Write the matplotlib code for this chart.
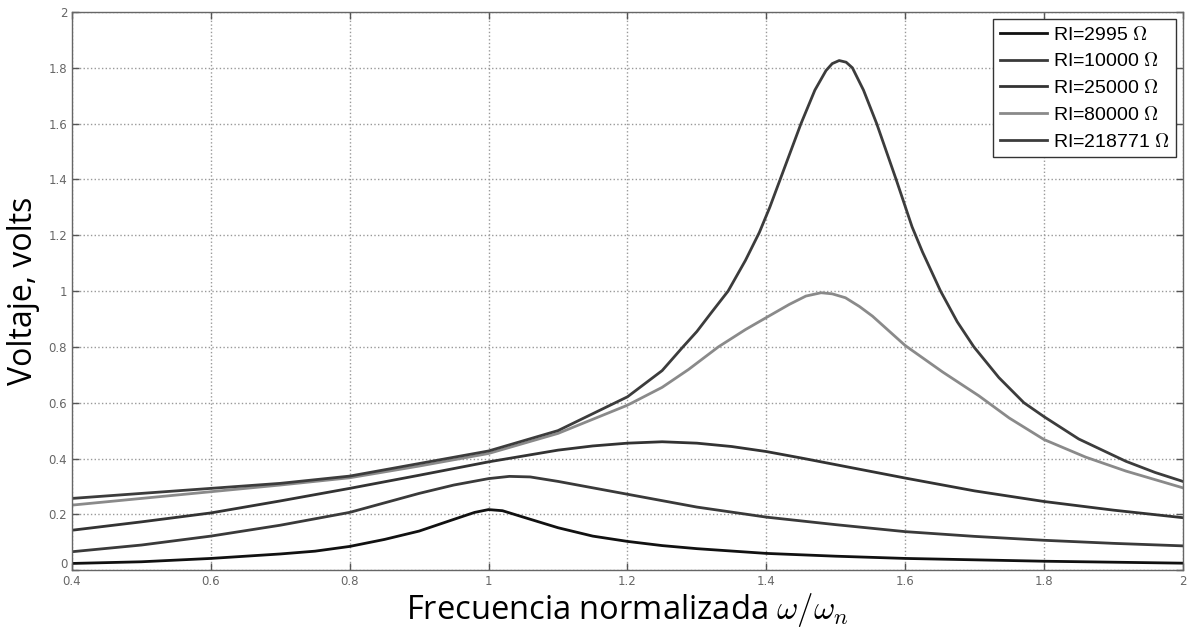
import matplotlib
matplotlib.use('Agg')
import matplotlib.pyplot as plt
import matplotlib.transforms as mtransforms

plt.rcParams['mathtext.fontset'] = 'cm'

# Curva RI=2995 ohm
x_2995 = [0.4, 0.5, 0.6, 0.7, 0.75, 0.8, 0.85, 0.9, 0.95, 0.98, 1.0, 1.02, 1.05, 1.1, 1.15, 1.2, 1.25,
          1.3, 1.4, 1.5, 1.6, 1.8, 2.0]
v_2995 = [0.024, 0.03, 0.042, 0.058, 0.068, 0.085, 0.11, 0.14, 0.182, 0.207, 0.217, 0.213, 0.19, 0.152,
          0.122, 0.103, 0.088, 0.077, 0.06, 0.05, 0.042, 0.032, 0.025]

# Curva RI=10000 ohm
x_10000 = [0.4, 0.5, 0.6, 0.7, 0.8, 0.9, 0.95, 1.0, 1.03, 1.06, 1.1, 1.15, 1.2, 1.3, 1.4, 1.5, 1.6,
           1.7, 1.8, 1.9, 2.0]
v_10000 = [0.066, 0.09, 0.122, 0.161, 0.207, 0.275, 0.305, 0.328, 0.336, 0.334, 0.318, 0.295, 0.272,
           0.226, 0.19, 0.163, 0.138, 0.121, 0.107, 0.096, 0.087]

# Curva RI=25000 ohm
x_25000 = [0.4, 0.5, 0.6, 0.7, 0.8, 0.9, 1.0, 1.1, 1.15, 1.2, 1.25, 1.3, 1.35, 1.4, 1.45, 1.5, 1.55,
           1.6, 1.7, 1.8, 1.9, 2.0]
v_25000 = [0.143, 0.173, 0.205, 0.248, 0.293, 0.34, 0.388, 0.43, 0.445, 0.455, 0.46, 0.455, 0.443,
           0.425, 0.402, 0.378, 0.354, 0.33, 0.284, 0.246, 0.215, 0.188]

# Curva RI=80000 ohm
x_80000 = [0.4, 0.5, 0.6, 0.7, 0.8, 0.9, 1.0, 1.1, 1.2, 1.25, 1.288, 1.331, 1.37, 1.4, 1.433, 1.457,
           1.479, 1.495, 1.514, 1.534, 1.553, 1.6, 1.654, 1.706, 1.75, 1.8, 1.86, 1.918, 2.0]
v_80000 = [0.233, 0.257, 0.281, 0.305, 0.331, 0.373, 0.418, 0.49, 0.591, 0.655, 0.719, 0.8, 0.862,
           0.905, 0.952, 0.982, 0.994, 0.99, 0.976, 0.945, 0.91, 0.805, 0.71, 0.625, 0.545, 0.468,
           0.405, 0.355, 0.295]

# Curva RI=218771 ohm
x_218771 = [0.4, 0.5, 0.6, 0.7, 0.8, 0.9, 1.0, 1.1, 1.2, 1.25, 1.28, 1.3, 1.32, 1.345, 1.37, 1.39,
            1.405, 1.42, 1.435, 1.45, 1.47, 1.486, 1.495, 1.505, 1.515, 1.524, 1.54, 1.559, 1.587,
            1.61, 1.625, 1.651, 1.675, 1.699, 1.735, 1.771, 1.8, 1.85, 1.918, 1.96, 2.0]
v_218771 = [0.257, 0.275, 0.293, 0.311, 0.337, 0.382, 0.427, 0.5, 0.621, 0.715, 0.8, 0.855, 0.92,
            1.0, 1.11, 1.21, 1.3, 1.4, 1.5, 1.6, 1.72, 1.79, 1.815, 1.826, 1.82, 1.8, 1.72, 1.6,
            1.4, 1.23, 1.14, 1.0, 0.89, 0.8, 0.69, 0.6, 0.55, 0.47, 0.39, 0.35, 0.318]

series = [
    (x_2995, v_2995, 'RI=2995 $\\Omega$', '#111111'),
    (x_10000, v_10000, 'RI=10000 $\\Omega$', '#3a3a3a'),
    (x_25000, v_25000, 'RI=25000 $\\Omega$', '#333333'),
    (x_80000, v_80000, 'RI=80000 $\\Omega$', '#8a8a8a'),
    (x_218771, v_218771, 'RI=218771 $\\Omega$', '#3c3c3c'),
]

xticks = [0.4, 0.6, 0.8, 1.0, 1.2, 1.4, 1.6, 1.8, 2.0]
xticklabels = ['0.4', '0.6', '0.8', '1', '1.2', '1.4', '1.6', '1.8', '2']
yticks = [0, 0.2, 0.4, 0.6, 0.8, 1.0, 1.2, 1.4, 1.6, 1.8, 2.0]
yticklabels = ['0', '0.2', '0.4', '0.6', '0.8', '1', '1.2', '1.4', '1.6', '1.8', '2']

fig = plt.figure(figsize=(11.9, 6.3), dpi=100)
ax = fig.add_axes([0.0605, 0.095, 0.9335, 0.886])

for xs, ys, label, color in series:
    ax.plot(xs, ys, color=color, linewidth=2.0, label=label)

ax.set_xlim(0.4, 2.0)
ax.set_ylim(0, 2.0)
ax.set_xticks(xticks)
ax.set_xticklabels(xticklabels)
ax.set_yticks(yticks)
ax.set_yticklabels(yticklabels)
ax.tick_params(direction='in', length=5, width=1, colors='#555555', labelsize=8.5,
               top=True, right=True, labelcolor='#666666')
for sp in ax.spines.values():
    sp.set_color('#666666')
    sp.set_linewidth(1.0)
ax.grid(True, linestyle=':', color='#999999', linewidth=1.0)

# nudge the y "0" label up a little so it sits just above "0.4", like the original
lbl0 = ax.get_yticklabels()[0]
lbl0.set_transform(lbl0.get_transform() + mtransforms.ScaledTranslation(0, 5 / 72, fig.dpi_scale_trans))

ax.set_xlabel('Frecuencia normalizada $\\omega/\\omega_n$', fontsize=23.5, family='Open Sans', labelpad=2)
ax.set_ylabel('Voltaje, volts', fontsize=23, family='Open Sans', labelpad=6)

leg = ax.legend(loc='upper right', fancybox=False, framealpha=1,
                edgecolor='#333333', handlelength=2.4, borderaxespad=0.35,
                labelspacing=0.45, handletextpad=0.3, borderpad=0.35,
                prop={'family': 'Liberation Sans', 'size': 14})
leg.get_frame().set_linewidth(1.0)

fig.savefig('out.png', dpi=100)
